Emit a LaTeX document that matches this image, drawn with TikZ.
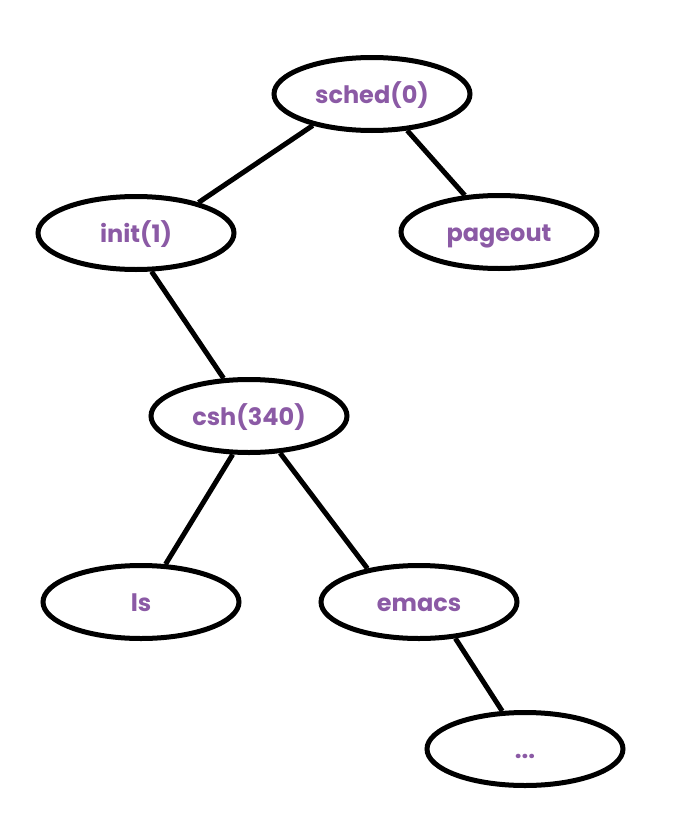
\documentclass[tikz,border=0pt]{standalone}
\usepackage{fontspec}
\setmainfont{Poppins}
\usepackage{xcolor}
\usetikzlibrary{shapes,positioning}
\definecolor{procpurple}{RGB}{139,90,165}

\begin{document}
\begin{tikzpicture}[x=0.75pt, y=-0.75pt,
  proc node/.style={ellipse, draw, line width=3.75pt, minimum width=147pt, minimum height=54.75pt,
    inner sep=0pt, text height=14pt, text depth=0pt, text=procpurple,
    font=\fontsize{18}{21}\selectfont\bfseries},
  tree edge/.style={line width=3.75pt}]
  \useasboundingbox (0,0) rectangle (673,821);

  \node [proc node] (sched) at (372,94) {sched(0)};
  \node [proc node] (init) at (136,233) {init(1)};
  \node [proc node] (pageout) at (499,232) {pageout};
  \node [proc node] (csh) at (249,416) {csh(340)};
  \node [proc node] (ls) at (141,602) {ls};
  \node [proc node] (emacs) at (419,602) {emacs};
  \node [proc node] (more) at (525,749) {...};

  \draw [tree edge] (sched.208) -- (init.26);
  \draw [tree edge] (sched.314) -- (pageout.133);
  \draw [tree edge] (init.292) -- (csh.124);
  \draw [tree edge] (csh.247) -- (ls.57);
  \draw [tree edge] (csh.310) -- (emacs.147);
  \draw [tree edge] (emacs.315) -- (more.121);
\end{tikzpicture}
\end{document}
